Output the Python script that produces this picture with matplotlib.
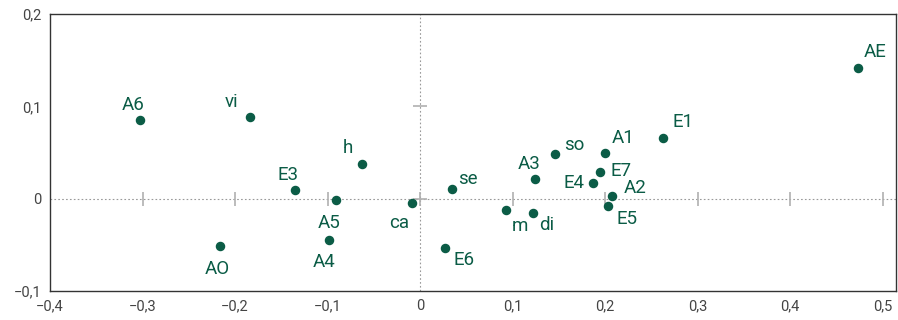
import matplotlib.pyplot as plt
from matplotlib.ticker import FuncFormatter

labels = ['A6', 'vi', 'AO', 'E3', 'A5', 'A4', 'h', 'ca', 'se', 'E6', 'm',
          'di', 'A3', 'so', 'E4', 'E7', 'A1', 'A2', 'E5', 'E1', 'AE']
x = [-0.303, -0.184, -0.216, -0.135, -0.091, -0.098, -0.063, -0.009, 0.035,
     0.027, 0.093, 0.122, 0.124, 0.146, 0.187, 0.195, 0.200, 0.208, 0.203,
     0.263, 0.474]
y = [0.085, 0.088, -0.051, 0.009, -0.001, -0.045, 0.038, -0.005, 0.011,
     -0.053, -0.012, -0.016, 0.021, 0.048, 0.017, 0.029, 0.049, 0.003,
     -0.008, 0.066, 0.142]

# label offsets in points (style, not data)
offsets = {
    'A6': (-5, 11), 'vi': (-13, 11), 'AO': (-2, -17), 'E3': (-5, 11),
    'A5': (-5, -17), 'A4': (-4, -16), 'h': (-10, 11), 'ca': (-9, -14),
    'se': (11, 7), 'E6': (14, -9), 'm': (10, -12), 'di': (10, -8),
    'A3': (-4, 11), 'so': (14, 7), 'E4': (-14, 0), 'E7': (15, 1),
    'A1': (13, 11), 'A2': (16, 6), 'E5': (14, -9), 'E1': (14, 11),
    'AE': (12, 11),
}

xticks = [-0.4, -0.3, -0.2, -0.1, 0, 0.1, 0.2, 0.3, 0.4, 0.5]
yticks = [-0.1, 0, 0.1, 0.2]
axis_xmarks = [-0.3, -0.2, -0.1, 0, 0.1, 0.2, 0.3, 0.4, 0.5]
axis_ymarks = [0, 0.1]

green = '#0b5c46'
plt.rcParams['font.family'] = ['Roboto', 'DejaVu Sans']

fig = plt.figure(figsize=(8.98, 3.2), dpi=100)
ax = fig.add_axes([0.0557, 0.0906, 0.9421, 0.8654])

ax.axhline(0, color='#999999', lw=0.8, ls=(0, (1.5, 2)), zorder=1)
ax.axvline(0, color='#999999', lw=0.8, ls=(0, (1.5, 2)), zorder=1)
ax.plot(axis_xmarks, [0] * len(axis_xmarks), ls='none', marker='|',
        ms=10, mew=1.2, color='#b0b0b0', zorder=1)
ax.plot([0] * len(axis_ymarks), axis_ymarks, ls='none', marker='_',
        ms=10, mew=1.2, color='#b0b0b0', zorder=1)

ax.scatter(x, y, s=34, color=green, zorder=3)
for lab, xi, yi in zip(labels, x, y):
    dx, dy = offsets[lab]
    ax.annotate(lab, (xi, yi), xytext=(dx, dy), textcoords='offset points',
                ha='center', va='center', fontsize=13.5, color=green)

ax.set_xlim(-0.4, 0.5146)
ax.set_ylim(-0.1, 0.2)
ax.set_xticks(xticks)
ax.set_yticks(yticks)


def fmt(v, pos):
    if abs(v) < 1e-9:
        return '0'
    s = f'{abs(v):.1f}'.replace('.', ',')
    return ('\u2212' if v < 0 else '') + s


ax.xaxis.set_major_formatter(FuncFormatter(fmt))
ax.yaxis.set_major_formatter(FuncFormatter(fmt))
ax.tick_params(length=0, labelsize=10.5, labelcolor='#444444', pad=6)
for sp in ax.spines.values():
    sp.set_color('#333333')
    sp.set_linewidth(1.0)

fig.savefig('out.png', dpi=100)
